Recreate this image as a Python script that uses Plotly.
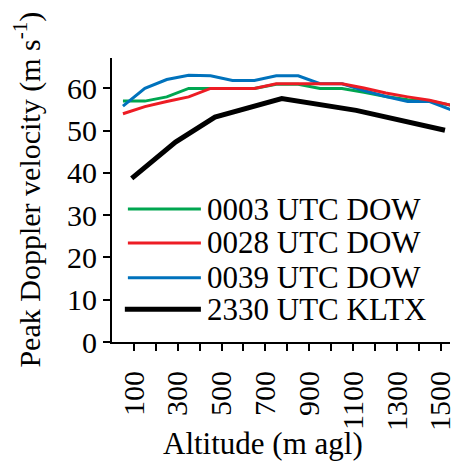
import plotly.graph_objects as go

# ---- data ----
alt_dow = [50, 150, 250, 350, 450, 550, 650, 750, 850, 950, 1050, 1150, 1250, 1350, 1450, 1550]
v_0003 = [57, 57, 58, 60, 60, 60, 60, 61, 61, 60, 60, 59.1, 58.1, 57.3, 57, 56]
v_0028 = [54, 55.7, 56.9, 58, 60, 60, 60, 61.1, 61.1, 61.1, 61.1, 60.1, 58.9, 58, 57.2, 56]
v_0039 = [55.8, 60, 62.1, 63.1, 63, 61.9, 61.9, 63, 63, 61.1, 61.1, 59.5, 58.1, 56.9, 56.9, 54.9]
alt_kltx = [90, 290, 470, 775, 1115, 1520]
v_kltx = [38.7, 47.3, 53.2, 57.6, 54.8, 50.1]

names = ["0003 UTC DOW", "0028 UTC DOW", "0039 UTC DOW", "2330 UTC KLTX"]
colors = ["rgb(0,166,80)", "rgb(237,28,36)", "rgb(0,114,188)", "black"]
widths = [3, 3, 3, 5]

x_tickvals = list(range(100, 1600, 100))
x_ticktext = [str(v) if (v // 100) % 2 == 1 else "" for v in x_tickvals]
y_tickvals = [0, 10, 20, 30, 40, 50, 60]

FONT = "Liberation Serif"
FS = 30

fig = go.Figure()
series = {
    0: (alt_dow, v_0003),
    2: (alt_dow, v_0039),
    1: (alt_dow, v_0028),
    3: (alt_kltx, v_kltx),
}
for i in [0, 2, 1, 3]:
    xs, ys = series[i]
    fig.add_trace(go.Scatter(x=xs, y=ys, mode="lines", name=names[i],
                             line=dict(color=colors[i], width=widths[i]),
                             showlegend=False))

# manual legend (long line samples)
row_y = [0.468, 0.349, 0.226, 0.115]
for i in range(4):
    x0 = 0.047 if i < 3 else 0.038
    fig.add_shape(type="line", xref="paper", yref="paper",
                  x0=x0, x1=0.263, y0=row_y[i], y1=row_y[i],
                  line=dict(color=colors[i], width=widths[i]))
    fig.add_annotation(xref="paper", yref="paper", x=0.275, y=row_y[i],
                       text=names[i], showarrow=False, xanchor="left", yanchor="middle",
                       font=dict(family=FONT, size=31, color="black"))

# axis titles
fig.add_annotation(xref="paper", yref="paper", x=0.447, y=-0.356,
                   text="Altitude (m agl)", showarrow=False,
                   xanchor="center", yanchor="middle",
                   font=dict(family=FONT, size=31, color="black"))
fig.add_annotation(xref="paper", yref="paper", x=-0.25, y=0.535,
                   text="Peak Doppler velocity (m s<sup>-1</sup>)", showarrow=False,
                   textangle=-90, xanchor="center", yanchor="middle",
                   font=dict(family=FONT, size=FS, color="black"))

# page body has an 8px default margin, so the figure is shrunk by 8px and margins shifted
fig.update_layout(
    width=451, height=459,
    margin=dict(l=104, r=9, t=50, b=125),
    paper_bgcolor="white", plot_bgcolor="white",
    font=dict(family=FONT, size=FS, color="black"),
    xaxis=dict(range=[0, 1543], tickvals=x_tickvals, ticktext=x_ticktext,
               tickangle=-90, ticks="outside", ticklen=7, tickwidth=2,
               tickcolor="black", showline=True, linecolor="black", linewidth=2,
               showgrid=False, zeroline=False, automargin=False,
               ticklabelstandoff=8,
               tickfont=dict(family=FONT, size=FS, color="black")),
    yaxis=dict(range=[0, 67.2], tickvals=y_tickvals,
               ticks="outside", ticklen=7, tickwidth=2,
               tickcolor="black", showline=True, linecolor="black", linewidth=2,
               showgrid=False, zeroline=False, automargin=False,
               tickfont=dict(family=FONT, size=FS, color="black")),
)

fig.write_html("out.html")
